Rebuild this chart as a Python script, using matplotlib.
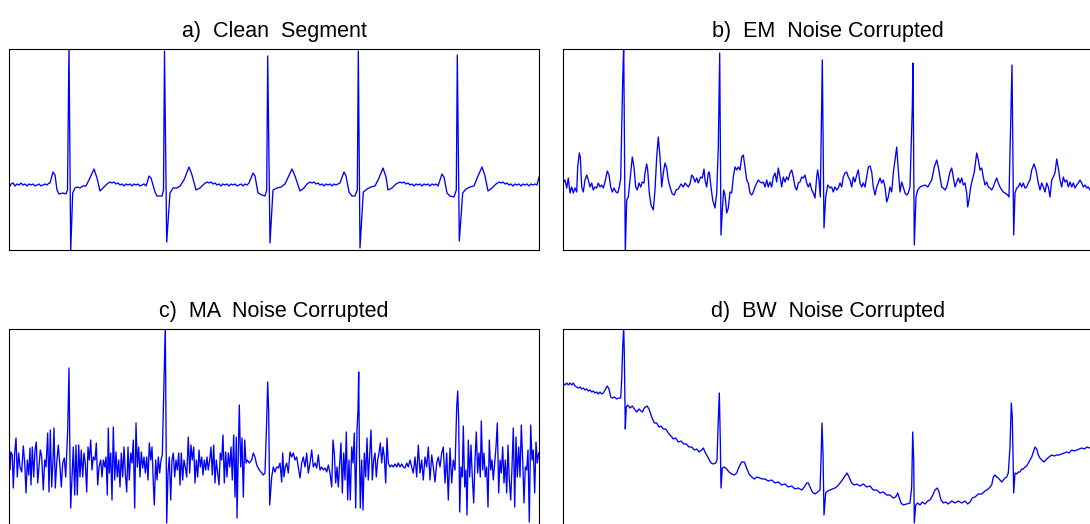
import numpy as np
import matplotlib.pyplot as plt

# sample index within each 530-sample window, amplitude in mV

# a) clean ECG segment
clean_t = [0, 2, 4, 6, 8, 10, 12, 14, 16, 18,
           20, 22, 24, 26, 28, 30, 32, 34, 36, 38,
           40, 41, 44, 46, 48, 50, 54, 57, 58.5, 60,
           61.7, 63.7, 66, 68, 71, 74, 77, 80, 85, 88,
           91, 94, 98, 101, 103, 105, 107, 109, 111, 113,
           115, 117, 119, 121, 123, 125, 127, 129, 131, 133,
           135, 137, 138, 140, 142, 146, 148, 153, 154.5, 155.5,
           157.7, 161, 164, 168, 171, 175, 180, 183, 187, 191,
           195, 198, 200, 202, 204, 206, 208, 210, 212, 214,
           216, 218, 220, 222, 224, 226, 228, 230, 232, 234,
           236, 238, 240, 244, 246, 249, 253, 256, 257.7, 258.7,
           261, 264, 268, 272, 276, 283, 286, 291, 295, 298,
           301, 303, 305, 307, 309, 311, 313, 315, 317, 319,
           321, 323, 325, 327, 329, 331, 335, 337, 340, 343,
           346, 348.3, 349.3, 351, 354.3, 358, 362, 366, 370, 374,
           377, 379, 383, 387, 391, 393, 395, 397, 399, 401,
           403, 405, 407, 409, 411, 413, 415, 417, 419, 421,
           423, 425, 427, 429, 430, 433, 435, 438, 441, 445,
           447.3, 448.3, 450.3, 453.7, 457, 461, 465, 469, 473, 476,
           479, 483, 487, 490, 492, 494, 496, 498, 500, 502,
           504, 506, 508, 510, 512, 514, 516, 518, 520, 522,
           524, 526, 528, 530]
clean_v = [-0.03, 0.01, 0.02, -0.01, 0.01, 0.00, 0.02, 0.00, 0.01, -0.01,
           0.01, 0.00, 0.01, -0.01, 0.00, 0.01, -0.01, 0.00, 0.01, 0.00,
           0.02, 0.02, 0.13, 0.10, -0.05, -0.09, -0.08, -0.09, -0.05, 1.40,
           -0.66, -0.08, -0.03, -0.02, -0.03, -0.01, -0.01, 0.05, 0.16, 0.07,
           -0.06, -0.03, 0.01, 0.03, 0.02, 0.03, 0.01, 0.02, 0.00, 0.01,
           -0.01, 0.01, 0.00, 0.01, -0.01, 0.01, 0.00, 0.01, -0.01, 0.00,
           0.01, -0.01, 0.02, 0.09, 0.07, -0.07, -0.11, -0.11, -0.05, 1.34,
           -0.57, -0.08, -0.03, -0.03, -0.01, 0.05, 0.18, 0.10, -0.05, -0.03,
           0.01, 0.03, 0.02, 0.03, 0.01, 0.02, 0.00, 0.01, -0.01, 0.01,
           0.00, 0.01, -0.01, 0.01, 0.00, 0.01, -0.01, 0.00, 0.01, -0.01,
           0.01, 0.00, 0.02, 0.12, 0.09, -0.08, -0.10, -0.11, -0.05, 1.29,
           -0.58, -0.05, -0.03, -0.02, 0.01, 0.16, 0.09, -0.06, -0.03, 0.01,
           0.03, 0.02, 0.03, 0.01, 0.02, 0.00, 0.01, -0.01, 0.01, 0.00,
           0.01, -0.01, 0.01, 0.00, 0.01, 0.02, 0.13, 0.09, -0.07, -0.11,
           -0.11, -0.05, 1.34, -0.63, -0.07, -0.04, -0.02, -0.01, 0.07, 0.17,
           0.08, -0.05, -0.03, 0.01, 0.03, 0.02, 0.03, 0.01, 0.02, 0.00,
           0.01, -0.01, 0.01, 0.00, 0.01, -0.01, 0.01, 0.00, 0.01, -0.01,
           0.01, 0.00, 0.01, -0.01, 0.02, 0.11, 0.08, -0.08, -0.11, -0.12,
           -0.05, 1.30, -0.56, -0.08, -0.04, -0.02, -0.01, 0.09, 0.18, 0.09,
           -0.06, -0.03, 0.01, 0.03, 0.02, 0.03, 0.01, 0.02, 0.00, 0.01,
           -0.01, 0.01, 0.00, 0.01, -0.01, 0.01, 0.00, 0.01, -0.01, 0.01,
           0.00, 0.01, 0.00, 0.08]

# b) electrode motion noise
em_t = [0, 2, 3.7, 5.3, 7, 8.7, 10.3, 12, 13.7, 14.7,
        16.3, 17.3, 18.7, 20.3, 22, 23.7, 25.3, 27, 28.7, 30.3,
        32, 33.7, 35.3, 37, 38.7, 40.3, 42, 44.3, 46, 47.7,
        49.3, 51, 53, 54.7, 56.3, 57.7, 59.7, 60.7, 62.3, 63.7,
        65.3, 67, 69.3, 71, 72.7, 74.3, 76, 77.7, 79.3, 81,
        82, 83.7, 84.7, 86.3, 88, 90.3, 92, 93.7, 95.3, 97,
        98.7, 100.3, 102, 103.7, 105.3, 107, 109.3, 111.3, 113, 115.3,
        118, 120.3, 122, 123.7, 125.3, 127, 128.7, 130.3, 132, 133.7,
        135.3, 137.7, 139.3, 141, 142, 143.7, 145.3, 146.3, 148, 149.7,
        152, 153.7, 155.3, 156.7, 158, 159.3, 160.7, 162, 163.7, 165.3,
        167, 168.7, 170.3, 172, 173.7, 175.3, 177, 178.7, 180.3, 182,
        183.7, 185.3, 187, 188.7, 190.3, 192, 193.7, 195.3, 197, 198.7,
        200.3, 202, 203.7, 205.3, 207, 208.7, 210.3, 212, 213.7, 215.3,
        217, 218.7, 220.3, 222, 223.7, 225.3, 227, 228.7, 230.3, 232,
        233.7, 235.3, 237, 238.7, 240.3, 242, 243.7, 245.3, 247, 248.7,
        250.3, 252, 253.7, 254.7, 256, 257.3, 258.7, 259.3, 261, 262.7,
        264.7, 267, 268.7, 270.3, 272, 273.7, 275.3, 277, 278.7, 280.3,
        282, 283.7, 285.3, 287, 288.7, 290.3, 292, 293.7, 295.3, 297,
        298.7, 300.3, 302, 303.7, 305.3, 307, 308.7, 310.3, 312, 313.7,
        315.3, 317, 318.7, 320.3, 322, 323.7, 325.3, 327, 328.7, 330.3,
        332, 333.7, 335.3, 337, 338.7, 340.3, 342, 343.7, 345.3, 347,
        349.3, 350, 351.3, 353, 354.7, 357, 359.3, 362, 364.7, 367,
        368.7, 371.3, 373.7, 375.3, 377, 378.7, 380.3, 382, 383.7, 385.3,
        387, 388.7, 390.3, 392, 393.7, 395.3, 397, 398.7, 400.3, 402,
        403.7, 404.7, 406, 407.7, 409.3, 411.3, 413.7, 415.3, 417, 418.7,
        420.3, 422, 423.7, 425.3, 427, 428.7, 430.3, 432, 433.7, 435.3,
        437, 438.7, 440.3, 442, 444.7, 446, 448, 449, 450.7, 452,
        453.7, 455.3, 457, 458.7, 460.3, 462, 463.7, 465.3, 467, 468.7,
        471, 473, 475.3, 477, 478.7, 480.3, 482, 483.7, 485.3, 487,
        488.7, 490.3, 492, 493.7, 495.3, 497, 498.7, 500.3, 502, 503.7,
        505.3, 507, 508.7, 510.3, 512, 513.7, 515.3, 517, 518.7, 520.3,
        522, 523.7, 525.3, 527]
em_v = [0.02, 0.05, -0.03, 0.07, -0.08, -0.02, -0.08, -0.03, -0.07, 0.18,
        0.32, 0.28, -0.02, -0.07, 0.05, 0.10, 0.05, -0.02, 0.02, -0.05,
        -0.02, -0.03, 0.02, -0.02, 0.00, -0.03, 0.03, 0.14, 0.10, -0.02,
        -0.07, -0.03, -0.07, -0.08, -0.02, 0.07, 1.05, 1.40, -0.68, -0.15,
        -0.12, 0.05, 0.28, 0.18, -0.02, -0.05, 0.02, -0.02, 0.03, 0.02,
        0.12, 0.21, 0.15, -0.08, -0.20, -0.25, -0.05, 0.28, 0.48, 0.28,
        -0.02, 0.12, 0.22, 0.17, 0.05, -0.02, -0.09, -0.10, -0.05, -0.04,
        0.01, -0.02, 0.02, 0.00, -0.02, 0.01, 0.10, 0.08, 0.03, 0.07,
        0.02, 0.08, 0.07, 0.16, 0.05, -0.02, 0.12, 0.13, -0.02, -0.15,
        -0.23, -0.08, 0.38, 1.32, -0.50, -0.25, -0.05, -0.10, -0.28, -0.23,
        -0.07, -0.08, 0.08, 0.18, 0.15, 0.18, 0.15, 0.28, 0.30, 0.18,
        0.05, 0.02, -0.08, -0.10, -0.07, -0.02, 0.02, 0.05, 0.03, 0.02,
        0.03, -0.02, 0.05, -0.02, 0.03, -0.02, 0.08, 0.12, 0.03, 0.17,
        0.08, -0.02, 0.08, 0.03, 0.08, 0.05, 0.12, 0.15, 0.08, -0.02,
        -0.05, 0.02, 0.03, 0.08, 0.07, 0.10, 0.02, -0.02, 0.02, -0.05,
        -0.08, -0.13, 0.08, 0.15, 0.05, -0.12, 0.85, 1.25, -0.43, -0.12,
        0.00, -0.03, -0.02, -0.07, -0.02, -0.05, -0.03, 0.02, -0.02, 0.08,
        0.12, 0.13, 0.08, 0.05, -0.02, 0.08, 0.03, 0.10, 0.15, 0.02,
        -0.02, 0.02, -0.02, 0.08, 0.18, 0.19, 0.13, -0.02, -0.10, -0.02,
        0.02, 0.07, 0.02, 0.05, -0.02, -0.17, -0.12, -0.02, -0.07, 0.12,
        0.25, 0.38, 0.15, -0.07, 0.03, -0.02, -0.08, -0.10, -0.08, -0.02,
        0.78, 1.22, -0.60, -0.12, -0.05, -0.02, -0.01, 0.00, -0.02, 0.02,
        0.05, 0.18, 0.25, 0.18, 0.08, -0.02, -0.03, -0.05, -0.02, 0.05,
        0.13, 0.17, 0.08, -0.02, 0.03, 0.07, 0.02, 0.07, 0.00, 0.02,
        -0.08, -0.22, -0.15, -0.02, 0.05, 0.13, 0.32, 0.25, 0.15, 0.17,
        0.08, 0.00, 0.03, -0.02, -0.03, -0.05, -0.02, 0.03, 0.07, 0.02,
        -0.02, -0.05, -0.07, -0.08, -0.10, -0.12, 0.78, 1.20, -0.50, -0.08,
        -0.03, -0.02, 0.02, -0.02, 0.02, -0.03, -0.02, 0.02, 0.05, 0.15,
        0.21, 0.15, 0.02, -0.05, 0.02, -0.02, -0.07, 0.02, -0.02, -0.12,
        0.05, 0.08, 0.12, 0.26, 0.17, 0.05, -0.02, 0.08, 0.03, 0.05,
        -0.02, 0.03, -0.02, 0.02, -0.03, 0.00, 0.02, 0.05, 0.02, -0.02,
        0.00, -0.03, -0.02, -0.05]

# c) muscle artifact noise
ma_t = [0, 1, 2, 3.3, 4.3, 5.7, 7, 8.3, 9.7, 11,
        12.7, 14.3, 15.7, 17, 18.3, 19.7, 21, 22, 23.3, 24.7,
        26, 27.3, 28.7, 30, 31.3, 32.7, 34.3, 35.7, 37, 38.7,
        40, 41.3, 42.7, 44, 45, 46.3, 47.7, 49.3, 51, 52.3,
        53.7, 55.3, 56.7, 58.7, 60, 61, 61.7, 63, 64.3, 65.7,
        67, 68.3, 69.7, 71, 72.3, 73.7, 75, 76.3, 77.7, 79,
        80.3, 81.7, 83, 84.3, 86, 87.3, 88.7, 90, 91.7, 93,
        94.3, 95.7, 97, 98.3, 99.3, 100.3, 101.7, 103, 104.3, 105.7,
        107, 108.3, 109.7, 111, 112.3, 113.7, 115, 116.3, 117.7, 119,
        120.3, 121.7, 123, 124.3, 125.7, 127, 128.3, 129.7, 131, 132.3,
        133.7, 135, 136.3, 137.7, 139, 140.3, 141.7, 143, 144.3, 145.3,
        146.7, 148, 149.3, 150.7, 152, 153.3, 155.3, 156.3, 157.7, 159,
        160.3, 161.7, 163, 164.3, 165.7, 167, 168.3, 169.7, 171, 172.3,
        173.7, 175, 176.3, 177.7, 179.3, 180.7, 182, 183.3, 184.7, 186,
        187.3, 188.7, 190, 191.3, 192.7, 194, 195.3, 196.7, 198, 199.3,
        200.7, 202, 203.3, 204.7, 206, 207.3, 208.7, 210, 211.3, 212.7,
        214, 215.3, 216.7, 218, 219.3, 220.7, 222, 223.3, 224.7, 226,
        227.3, 228, 229.3, 230.3, 231.7, 233, 234.3, 235.7, 237, 238.3,
        240.3, 242.7, 244.3, 246, 247.7, 250.3, 252.7, 254.3, 256, 257.7,
        258.7, 259.7, 260.7, 262.7, 264.3, 266, 267.7, 269.3, 271, 272.7,
        273.7, 275, 276.3, 277.7, 279.3, 281, 282.7, 284.3, 286, 287.7,
        289.3, 291, 292.7, 294.3, 296, 297.7, 299.3, 301, 302.7, 304.3,
        306, 307.7, 309.3, 311, 312.7, 314.3, 316, 317.7, 319.3, 321,
        322.7, 324, 325.3, 326.7, 328, 329.3, 330.7, 332, 333.3, 334.7,
        336, 337.3, 338.7, 340, 341.3, 342.7, 344, 345.3, 346.7, 348,
        349, 349.7, 350.3, 351.3, 352.7, 354, 355.3, 356.7, 358, 359.3,
        362, 363.3, 364.7, 366, 367.3, 368.7, 370, 371.3, 372.7, 374,
        375.3, 376.7, 378, 379.3, 381, 382.7, 384.3, 386, 387.7, 389.3,
        391, 392.7, 394.3, 396, 397.7, 399.3, 401, 402.7, 404.3, 406,
        407.7, 409.3, 411, 412.7, 414.3, 416, 417.7, 419.3, 421, 422.7,
        424.3, 426, 427.7, 429.3, 431, 432.7, 434.3, 436, 437.7, 439.3,
        441, 442.7, 444.3, 446, 447.7, 448.7, 449.7, 450.7, 452, 453.3,
        454.3, 455.7, 457, 458, 459.3, 460.7, 462, 463.3, 464.7, 466,
        467.3, 468.7, 470, 471.3, 472.3, 473.7, 475, 476.3, 477.7, 479,
        480.3, 481.7, 483, 484.3, 485.7, 487, 488.3, 489.7, 491, 492.3,
        493.7, 495, 496.3, 497.7, 499, 500.3, 501.7, 503, 504.3, 505.7,
        507, 508.3, 509.7, 511, 512.3, 513.7, 515, 516.3, 517.7, 519,
        520.3, 521.7, 523, 524.3, 525.7, 527, 528.3, 529.7]
ma_v = [0.34, -0.03, 0.15, 0.12, -0.21, 0.14, 0.29, -0.10, 0.14, 0.00,
        -0.05, 0.21, 0.04, -0.26, 0.07, -0.08, 0.19, -0.18, 0.20, -0.10,
        0.17, 0.25, -0.16, 0.00, 0.17, 0.10, -0.23, 0.07, 0.00, 0.34,
        -0.25, 0.37, -0.20, 0.07, 0.39, -0.21, 0.04, 0.22, 0.00, -0.20,
        0.04, 0.09, -0.10, 0.37, 0.99, 0.04, -0.41, -0.10, 0.20, -0.28,
        0.22, -0.28, 0.22, -0.10, 0.17, -0.10, 0.14, 0.04, -0.25, 0.20,
        0.07, 0.27, -0.03, 0.10, 0.07, 0.24, -0.18, 0.00, 0.07, -0.10,
        0.07, 0.00, 0.10, -0.28, 0.39, -0.06, 0.14, -0.33, 0.40, -0.13,
        0.15, -0.10, 0.07, -0.20, 0.14, -0.10, 0.20, -0.06, -0.25, 0.20,
        -0.13, 0.14, 0.04, 0.27, -0.41, 0.44, 0.00, 0.20, -0.10, 0.15,
        -0.01, 0.10, -0.06, 0.10, -0.13, 0.24, 0.07, 0.20, -0.16, -0.38,
        0.07, -0.13, 0.10, -0.06, 0.07, 0.12, 0.97, 1.42, -0.56, -0.06,
        0.10, -0.33, 0.07, 0.14, -0.10, 0.07, -0.03, 0.14, -0.18, 0.14,
        -0.13, 0.07, 0.00, -0.10, 0.30, -0.06, 0.22, 0.07, 0.20, -0.16,
        0.07, -0.10, 0.17, 0.00, 0.10, -0.08, 0.07, -0.03, 0.10, -0.03,
        0.07, 0.20, -0.08, 0.22, -0.16, 0.07, -0.06, -0.18, 0.14, 0.07,
        0.32, -0.16, 0.15, -0.10, 0.14, 0.00, 0.20, -0.13, 0.32, -0.30,
        0.30, -0.51, 0.14, 0.62, 0.00, 0.29, -0.30, 0.27, 0.04, 0.07,
        0.04, 0.07, 0.14, 0.10, 0.02, -0.03, -0.06, -0.08, -0.06, 0.47,
        0.85, 0.54, -0.38, -0.10, 0.00, -0.05, 0.00, -0.01, 0.04, -0.15,
        0.14, -0.10, 0.00, 0.04, -0.06, 0.15, 0.10, 0.14, 0.07, 0.10,
        0.00, -0.11, 0.04, 0.10, 0.00, 0.14, -0.06, 0.04, 0.17, 0.00,
        0.04, -0.01, 0.12, -0.03, 0.00, -0.03, -0.01, -0.05, 0.02, -0.06,
        -0.20, 0.27, 0.14, -0.16, 0.00, -0.20, 0.04, 0.24, -0.26, 0.14,
        -0.13, 0.35, -0.33, 0.07, -0.33, 0.20, 0.04, 0.34, -0.41, 0.37,
        0.57, 0.95, 0.24, -0.41, 0.07, -0.43, 0.14, -0.10, 0.29, -0.13,
        0.37, -0.13, 0.07, 0.14, -0.10, 0.07, 0.14, 0.24, 0.04, 0.20,
        0.10, -0.16, 0.29, 0.04, 0.00, 0.02, 0.00, 0.03, 0.00, 0.04,
        0.00, 0.03, 0.00, -0.01, 0.04, 0.00, 0.07, 0.00, -0.06, 0.10,
        -0.10, 0.22, -0.06, 0.07, -0.13, 0.10, 0.00, 0.20, -0.13, 0.12,
        0.00, -0.15, 0.04, 0.10, 0.00, 0.14, 0.20, -0.16, 0.14, -0.33,
        0.19, -0.16, 0.07, -0.03, 0.60, 0.76, 0.47, -0.45, 0.00, -0.10,
        0.41, -0.20, -0.03, -0.48, 0.27, -0.10, 0.22, -0.10, -0.36, 0.07,
        0.35, -0.06, 0.14, -0.10, 0.46, -0.03, 0.14, -0.10, 0.00, -0.40,
        0.27, -0.03, 0.07, -0.13, 0.04, 0.20, 0.44, -0.26, 0.07, -0.06,
        0.20, -0.16, 0.07, -0.26, 0.22, -0.13, -0.33, 0.00, 0.39, -0.40,
        0.30, -0.10, 0.20, -0.10, 0.42, 0.07, -0.36, 0.00, -0.03, 0.17,
        -0.55, 0.42, 0.07, 0.17, -0.26, 0.25, 0.04, 0.14]

# d) baseline wander
bw_t = [0, 2, 3.7, 5.3, 7, 8.7, 10.3, 12, 13.7, 15.3,
        17, 18.7, 20.3, 22, 23.7, 25.3, 27, 28.7, 30.3, 32,
        33.7, 35.3, 37, 38.7, 40.3, 42, 44.3, 46, 47.7, 49.3,
        51.3, 53.7, 56, 57.7, 58.7, 59.7, 60.7, 61.3, 62.3, 63.3,
        64.7, 67, 69.3, 71.3, 73.7, 76, 78, 79.3, 81.3, 84,
        86, 88.7, 91.3, 93.7, 96, 98, 100.3, 102.7, 105.3, 108,
        110.3, 112.7, 115.3, 118, 120.7, 123.3, 126, 128.7, 131.3, 133.7,
        136, 138.7, 140.3, 142, 143.7, 145.3, 148, 150.3, 152.7, 154,
        155.3, 156.3, 157.3, 158, 159.3, 161.3, 163.7, 166, 168.7, 171.3,
        173.7, 176, 178.7, 181.3, 183.7, 186, 188.7, 191.3, 194, 196.7,
        199.3, 202, 205.3, 208.7, 212, 215.3, 218.7, 222, 225.3, 228.7,
        232, 235.3, 238.7, 241.3, 243.7, 245.3, 247, 249.3, 252, 254.7,
        257, 258, 259, 260, 261, 262.7, 264.7, 267, 269.3, 272,
        274.7, 277, 279.3, 282, 284, 286, 288.7, 291.3, 293.7, 297,
        300.3, 303.7, 307, 310.3, 313.7, 317, 320.3, 323.7, 327, 330.3,
        332.7, 334.7, 336.3, 338, 340.3, 343.7, 347, 348.7, 349.7, 350.7,
        351.3, 352.7, 354.7, 357, 359.3, 362, 364.7, 367, 369.3, 372,
        374.3, 376, 378, 380.3, 382.7, 385.3, 388.7, 392, 395.3, 398.7,
        402, 404.7, 407, 409.3, 412, 415.3, 418.7, 422, 425.3, 428.7,
        430.3, 432, 433.7, 435.3, 437, 438.7, 440.3, 442, 443.7, 445.3,
        447, 448.3, 449.3, 450.7, 452, 453.7, 455.3, 457, 458.7, 460.3,
        462, 463.7, 465.3, 467, 468.7, 470.3, 472, 473.7, 475.3, 477,
        478.7, 481, 483.7, 486, 488.7, 491.3, 493.7, 496, 498.7, 501.3,
        503.7, 506, 508.7, 511.3, 513.7, 516, 518.7, 521.3, 524, 526.7]
bw_v = [0.84, 0.82, 0.84, 0.82, 0.84, 0.82, 0.84, 0.81, 0.80, 0.79,
        0.80, 0.78, 0.79, 0.77, 0.78, 0.76, 0.77, 0.75, 0.76, 0.74,
        0.75, 0.73, 0.75, 0.73, 0.74, 0.77, 0.81, 0.78, 0.70, 0.69,
        0.70, 0.68, 0.69, 0.69, 0.87, 1.20, 1.40, 1.14, 0.38, 0.60,
        0.62, 0.59, 0.61, 0.58, 0.55, 0.58, 0.56, 0.55, 0.59, 0.61,
        0.58, 0.50, 0.44, 0.44, 0.40, 0.41, 0.38, 0.38, 0.34, 0.31,
        0.28, 0.29, 0.25, 0.26, 0.23, 0.23, 0.20, 0.20, 0.17, 0.18,
        0.15, 0.17, 0.19, 0.15, 0.12, 0.09, 0.04, 0.03, 0.04, 0.07,
        0.47, 0.74, 0.27, -0.21, -0.01, 0.00, -0.02, -0.05, -0.07, -0.08,
        -0.06, 0.00, 0.05, 0.05, -0.01, -0.07, -0.10, -0.12, -0.10, -0.11,
        -0.12, -0.12, -0.14, -0.13, -0.16, -0.15, -0.18, -0.17, -0.20, -0.19,
        -0.22, -0.21, -0.23, -0.20, -0.16, -0.16, -0.20, -0.25, -0.27, -0.25,
        -0.23, 0.07, 0.44, 0.14, -0.48, -0.26, -0.24, -0.23, -0.22, -0.21,
        -0.19, -0.16, -0.13, -0.09, -0.06, -0.10, -0.16, -0.18, -0.17, -0.19,
        -0.17, -0.20, -0.19, -0.23, -0.23, -0.26, -0.25, -0.28, -0.28, -0.31,
        -0.30, -0.26, -0.31, -0.36, -0.38, -0.37, -0.36, -0.20, 0.35, 0.07,
        -0.56, -0.38, -0.36, -0.38, -0.35, -0.37, -0.34, -0.33, -0.29, -0.23,
        -0.21, -0.25, -0.33, -0.36, -0.35, -0.37, -0.34, -0.36, -0.34, -0.36,
        -0.34, -0.37, -0.35, -0.31, -0.30, -0.27, -0.27, -0.24, -0.22, -0.18,
        -0.10, -0.08, -0.10, -0.11, -0.13, -0.15, -0.13, -0.11, -0.10, -0.06,
        0.20, 0.64, 0.50, -0.26, -0.06, -0.07, -0.05, -0.05, -0.02, -0.02,
        0.00, 0.01, 0.04, 0.07, 0.10, 0.15, 0.20, 0.18, 0.12, 0.09,
        0.07, 0.05, 0.08, 0.10, 0.12, 0.11, 0.12, 0.12, 0.13, 0.14,
        0.15, 0.14, 0.17, 0.16, 0.17, 0.18, 0.19, 0.18, 0.20, 0.19]

titles = ['a)  Clean  Segment', 'b)  EM  Noise Corrupted',
          'c)  MA  Noise Corrupted', 'd)  BW  Noise Corrupted']

plt.rcParams['font.family'] = ['Liberation Sans', 'DejaVu Sans']

fig = plt.figure(figsize=(10.90, 5.24), dpi=100)

# axes rectangles in figure fractions
top_row = (274 / 524, 201.5 / 524)
bottom_row = (-2 / 524, 197 / 524)
lefts = (9 / 1090, 563 / 1090)
w = 530 / 1090

panels = [
    (clean_t, clean_v, lefts[0], top_row, (-0.65, 1.365)),
    (em_t, em_v, lefts[1], top_row, (-0.65, 1.365)),
    (ma_t, ma_v, lefts[0], bottom_row, (-0.59, 1.38)),
    (bw_t, bw_v, lefts[1], bottom_row, (-0.59, 1.38)),
]

for (t, v, left, (bottom, h), ylim), title in zip(panels, titles):
    ax = fig.add_axes([left, bottom, w, h])
    ax.plot(np.array(t), np.array(v), color='#0000ff', lw=0.95)
    ax.set_xlim(0, 530)
    ax.set_ylim(*ylim)
    ax.set_xticks([])
    ax.set_yticks([])
    for s in ax.spines.values():
        s.set_linewidth(0.8)
        s.set_color('black')
    ax.set_title(title, fontsize=15.5, pad=8.5)

fig.savefig('out.png', dpi=100)
